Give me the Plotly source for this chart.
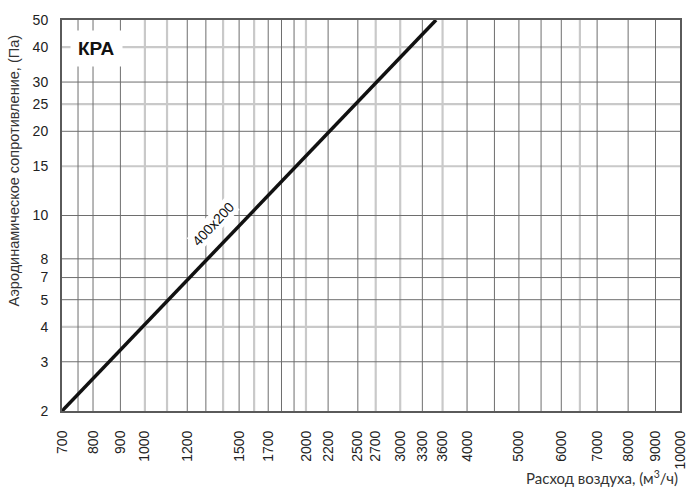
import numpy as np
import plotly.graph_objects as go

# line 400x200, air flow (m3/h) vs pressure drop (Pa)
flow = [700, 3500]
pressure = [2, 50]

x_tick_vals = [700, 800, 900, 1000, 1200, 1500, 1700, 2000, 2200, 2500, 2700,
               3000, 3300, 3600, 4000, 5000, 6000, 7000, 8000, 9000, 10000]
x_tick_text = [str(v) for v in x_tick_vals]

# the sheet labels the 6 and 7 grid lines as "7" and "8"
y_tick_vals = [2, 3, 4, 5, 6, 7, 10, 15, 20, 25, 30, 40, 50]
y_tick_text = ["2", "3", "4", "5", "7", "8", "10", "15", "20", "25", "30", "40", "50"]

x_grid_dark = [750, 800, 900, 1200, 1300, 1500, 1700, 1800, 1900, 2200, 2500,
               3300, 4000, 4500, 5000, 5500, 6000, 7000, 8000, 9000]
x_grid_light = [1000, 1100, 1400, 1600, 2000, 2700, 3000, 3600, 6500]
y_grid_dark = [3, 5, 6, 7, 10, 20, 30]
y_grid_light = [4, 15, 25, 40]

DARK = "#6e6e6e"
LIGHT = "#c9c9c9"
AX_FONT = "Liberation Sans, Arial, sans-serif"

fig = go.Figure()

fig.add_trace(go.Scatter(
    x=flow, y=pressure, mode="lines",
    line=dict(color="#111111", width=3.5),
    showlegend=False, hoverinfo="skip",
))

shapes = []
for v in x_grid_light:
    shapes.append(dict(type="line", xref="x", yref="paper", x0=v, x1=v, y0=0, y1=1,
                       line=dict(color=LIGHT, width=2.2), layer="below"))
for v in y_grid_light:
    shapes.append(dict(type="line", xref="paper", yref="y", x0=0, x1=1, y0=v, y1=v,
                       line=dict(color=LIGHT, width=2.2), layer="below"))
for v in x_grid_dark:
    shapes.append(dict(type="line", xref="x", yref="paper", x0=v, x1=v, y0=0, y1=1,
                       line=dict(color=DARK, width=1), layer="below"))
for v in y_grid_dark:
    shapes.append(dict(type="line", xref="paper", yref="y", x0=0, x1=1, y0=v, y1=v,
                       line=dict(color=DARK, width=1), layer="below"))

fig.update_layout(
    width=700, height=489,
    margin=dict(l=62, r=17, t=20, b=78),
    paper_bgcolor="white", plot_bgcolor="white",
    shapes=shapes,
    xaxis=dict(
        type="log", range=[np.log10(700), np.log10(10000)],
        tickmode="array", tickvals=x_tick_vals, ticktext=x_tick_text,
        tickangle=-90, ticklabelstandoff=12,
        tickfont=dict(family=AX_FONT, size=14, color="#222222"),
        showgrid=False, zeroline=False,
        showline=True, mirror=True, linecolor="#5a5a5a", linewidth=2,
        ticks="",
    ),
    yaxis=dict(
        type="log", range=[np.log10(2), np.log10(50)],
        tickmode="array", tickvals=y_tick_vals, ticktext=y_tick_text,
        ticklabelstandoff=9,
        tickfont=dict(family=AX_FONT, size=14, color="#222222"),
        showgrid=False, zeroline=False,
        showline=True, mirror=True, linecolor="#5a5a5a", linewidth=2,
        ticks="",
    ),
    annotations=[
        dict(text="<b>КРА</b>", xref="paper", yref="paper", x=0.056, y=0.928,
             xanchor="center", yanchor="middle",
             showarrow=False, font=dict(family=AX_FONT, size=19, color="#111111"),
             bgcolor="white", borderpad=7),
        # annotation positions on log axes are given as log10 values
        dict(text="400x200", xref="x", yref="y", x=np.log10(1340), y=np.log10(9.35),
             xanchor="center", yanchor="middle",
             textangle=-47, showarrow=False,
             font=dict(family=AX_FONT, size=14, color="#111111"),
             bgcolor="white", borderpad=1),
        dict(text="Аэродинамическое сопротивление, (Па)", xref="paper", yref="paper",
             x=-0.077, y=0.616, xanchor="center", yanchor="middle", textangle=-90,
             showarrow=False, font=dict(family=AX_FONT, size=14.5, color="#333333")),
        dict(text="Расход воздуха, (м<sup>3</sup>/ч)", xref="paper", yref="paper",
             x=1.0, y=-0.171, xanchor="right", yanchor="middle",
             showarrow=False, font=dict(family="Lato, sans-serif", size=15, color="#333333")),
    ],
)

fig.write_html("out.html", config={"displayModeBar": False},
               post_script="document.body.style.margin='0';")
